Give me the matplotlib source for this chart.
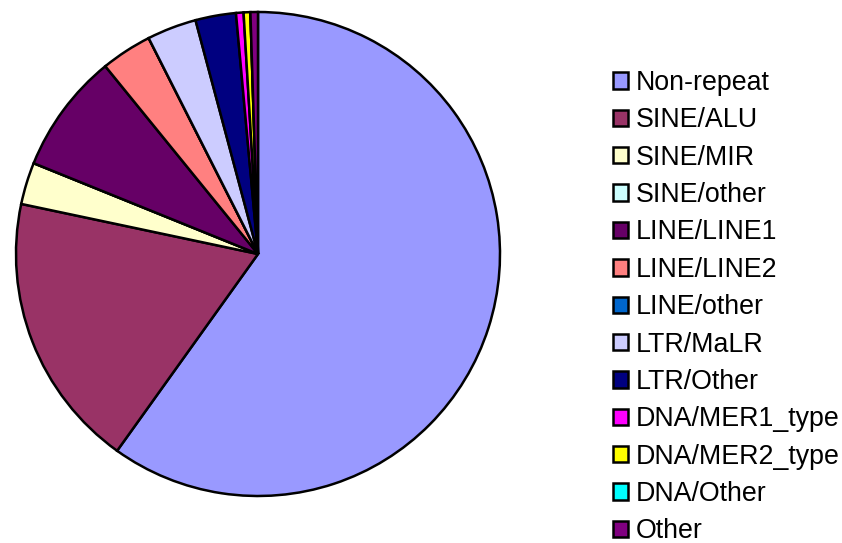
import matplotlib
matplotlib.use("Agg")
import matplotlib.pyplot as plt
from matplotlib.patches import Patch

plt.rcParams["font.family"] = ["Liberation Sans", "DejaVu Sans"]

# repeat classes and their share of the sequence (percent)
labels = ["Non-repeat", "SINE/ALU", "SINE/MIR", "SINE/other", "LINE/LINE1",
          "LINE/LINE2", "LINE/other", "LTR/MaLR", "LTR/Other", "DNA/MER1_type",
          "DNA/MER2_type", "DNA/Other", "Other"]
shares = [59.8, 18.4, 2.8, 0.0, 8.0, 3.4, 0.0, 3.3, 2.7, 0.5, 0.45, 0.0, 0.5]
colors = ["#9999FF", "#993366", "#FFFFCC", "#CCFFFF", "#660066", "#FF8080",
          "#0066CC", "#CCCCFF", "#000080", "#FF00FF", "#FFFF00", "#00FFFF",
          "#800080"]

fig = plt.figure(figsize=(8.42, 5.43), dpi=100)
ax = fig.add_axes([16 / 842, 47 / 543, 484 / 842, 484 / 543])

wedges, _ = ax.pie(shares, colors=colors, startangle=90, counterclock=False,
                   radius=1.0,
                   wedgeprops=dict(edgecolor="black", linewidth=1.8, clip_on=False))
ax.set_xlim(-1, 1)
ax.set_ylim(-1, 1)
ax.set_aspect("equal")
ax.axis("off")

handles = [Patch(facecolor=c, edgecolor="black", linewidth=1.8) for c in colors]
fig.legend(handles, labels, loc="upper left",
           bbox_to_anchor=(613 / 842, 1 - 70 / 543),
           frameon=False, fontsize=19.3, borderpad=0, borderaxespad=0,
           handlelength=0.56, handleheight=0.56, handletextpad=0.3,
           labelspacing=0.424)

fig.savefig("out.png", dpi=100)
